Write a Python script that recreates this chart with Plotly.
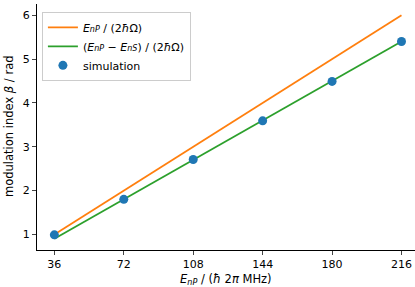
import plotly.graph_objects as go

energy = [36, 72, 108, 144, 180, 216]
beta_nP = [1.0, 2.0, 3.0, 4.0, 5.0, 6.0]
beta_diff = [0.9, 1.8, 2.7, 3.6, 4.5, 5.4]
beta_sim = [0.99, 1.80, 2.71, 3.59, 4.49, 5.40]
sim_err = [0.02, 0.02, 0.02, 0.02, 0.02, 0.02]
xticks = [36, 72, 108, 144, 180, 216]
yticks = [1, 2, 3, 4, 5, 6]

font = "DejaVu Sans"
sub = lambda s: "<span style='font-size:8px'><i>%s</i></span>" % s
fig = go.Figure()
fig.add_trace(go.Scatter(x=energy, y=beta_nP, mode="lines",
                         line=dict(color="#ff7f0e", width=1.8),
                         name="<i>E</i>" + sub("nP") + " / (2<i>ħ</i>Ω)"))
fig.add_trace(go.Scatter(x=energy, y=beta_diff, mode="lines",
                         line=dict(color="#2ca02c", width=1.8),
                         name="(<i>E</i>" + sub("nP") + " − <i>E</i>" + sub("nS") + ") / (2<i>ħ</i>Ω)"))
fig.add_trace(go.Scatter(x=energy, y=beta_sim, mode="markers",
                         marker=dict(color="#1f77b4", size=9),
                         error_y=dict(type="data", array=sim_err, color="#1f77b4", thickness=1.5, width=0),
                         name="simulation"))

fig.update_layout(
    width=415, height=287,
    margin=dict(l=37, r=0, t=4, b=37, autoexpand=False),
    paper_bgcolor="white", plot_bgcolor="white",
    font=dict(family=font, size=11, color="black"),
    showlegend=True,
    legend=dict(x=0.013, y=0.968, xanchor="left", yanchor="top",
                bgcolor="rgba(255,255,255,0.8)", bordercolor="#cccccc", borderwidth=1,
                font=dict(size=11), itemwidth=30),
    annotations=[
        dict(text="<i>E</i><sub><i>nP</i></sub> / (<i>ħ</i> 2<i>π</i> MHz)",
             xref="paper", yref="paper", x=0.5, y=-39/246, xanchor="center", yanchor="bottom",
             showarrow=False, font=dict(size=11.5)),
        dict(text="modulation index <i>β</i> / rad", textangle=-90,
             xref="paper", yref="paper", x=-37/378, y=0.5, xanchor="left", yanchor="middle",
             showarrow=False, font=dict(size=11.5)),
    ],
)
fig.update_xaxes(range=[27, 223], tickvals=xticks, ticks="outside", ticklen=4, automargin=False,
                 showline=True, linecolor="black", linewidth=1, showgrid=False, zeroline=False)
fig.update_yaxes(range=[0.645, 6.255], tickvals=yticks, ticks="outside", ticklen=4, automargin=False,
                 showline=True, linecolor="black", linewidth=1, showgrid=False, zeroline=False)
fig.write_html("out.html", config={"displayModeBar": False},
               post_script="document.body.style.margin='0px';")
